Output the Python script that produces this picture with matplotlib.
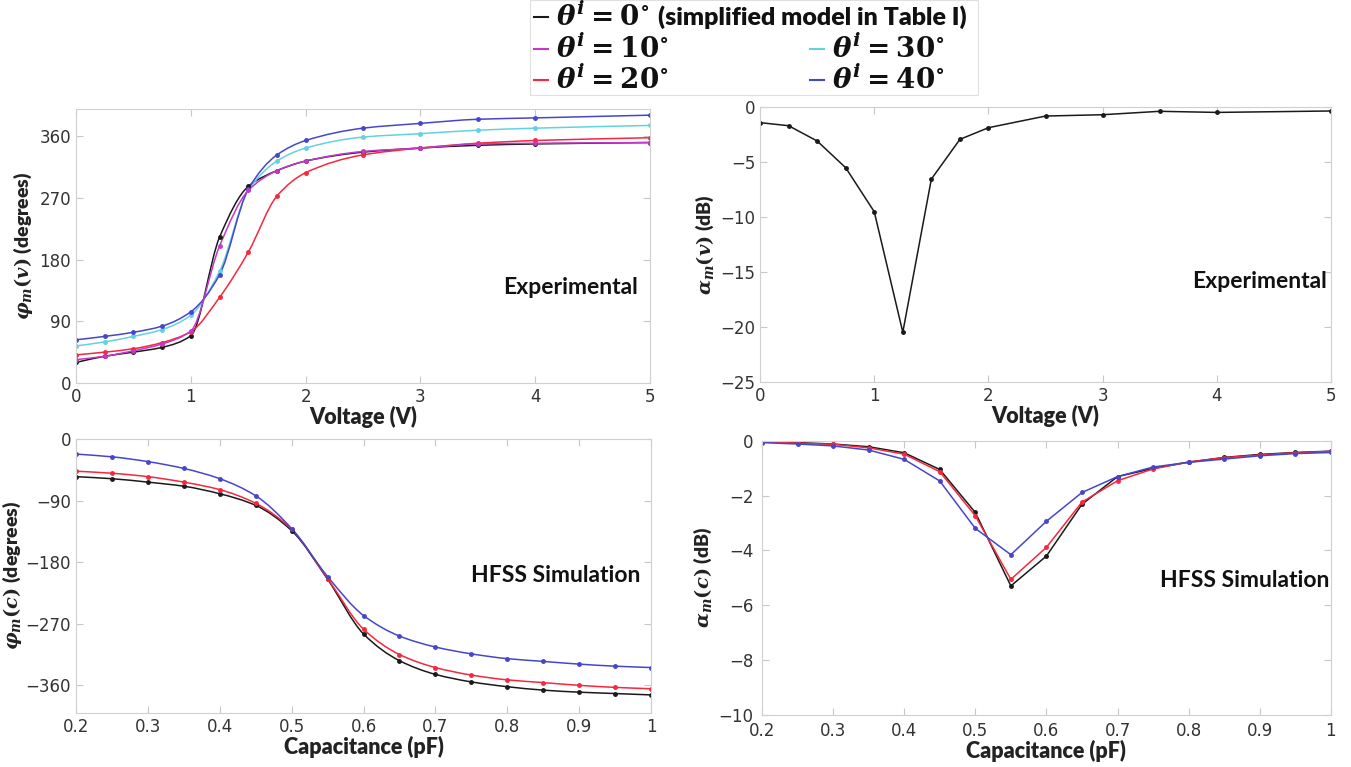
import numpy as np
import matplotlib
matplotlib.use('Agg')
import matplotlib.pyplot as plt
from matplotlib.path import Path
from matplotlib.patches import PathPatch
from matplotlib.lines import Line2D

plt.rcParams['font.family'] = ['DejaVu Sans']
plt.rcParams['mathtext.fontset'] = 'custom'
plt.rcParams['mathtext.rm'] = 'DejaVu Serif:bold'
plt.rcParams['mathtext.it'] = 'DejaVu Serif:italic:bold'
plt.rcParams['mathtext.bf'] = 'DejaVu Serif:bold'

# ---- data ----
volt = [0, 0.25, 0.5, 0.75, 1, 1.25, 1.5, 1.75, 2, 2.5, 3, 3.5, 4, 5]
phi_v_0 = [30, 39, 45, 52, 69, 213, 287, 310, 324, 337, 343, 347, 349, 351]
phi_v_10 = [34, 39, 47, 57, 76, 200, 281, 310, 324, 338, 343, 349, 350, 351]
phi_v_20 = [41, 45, 50, 59, 75, 125, 191, 273, 307, 333, 343, 350, 354, 358]
phi_v_30 = [54, 60, 68, 78, 99, 163, 281, 324, 343, 359, 364, 369, 372, 376]
phi_v_40 = [63, 68, 74, 83, 104, 158, 283, 333, 354, 372, 379, 385, 387, 391]
alpha_v = [-1.45, -1.73, -3.12, -5.55, -9.55, -20.5, -6.58, -2.97, -1.91,
           -0.85, -0.73, -0.42, -0.52, -0.39]

cap = [0.2, 0.25, 0.3, 0.35, 0.4, 0.45, 0.5, 0.55, 0.6, 0.65, 0.7, 0.75,
       0.8, 0.85, 0.9, 0.95, 1.0]
phi_c_0 = [-55, -58, -63, -69, -80, -97, -134, -205, -285, -324, -344, -355,
           -362, -367, -370, -372, -374]
phi_c_20 = [-47, -50, -55, -63, -74, -94, -132, -204, -278, -315, -334, -345,
            -352, -356, -360, -363, -365]
phi_c_40 = [-22, -26, -33, -43, -58, -83, -131, -201, -258, -288, -304, -314,
            -321, -325, -329, -332, -334]
alpha_c_0 = [-0.05, -0.07, -0.12, -0.22, -0.44, -1.05, -2.62, -5.3, -4.21,
             -2.32, -1.31, -1.01, -0.78, -0.61, -0.5, -0.43, -0.38]
alpha_c_20 = [-0.04, -0.09, -0.13, -0.26, -0.49, -1.13, -2.74, -5.06, -3.89,
              -2.24, -1.46, -1.03, -0.78, -0.62, -0.52, -0.44, -0.39]
alpha_c_40 = [-0.07, -0.12, -0.19, -0.34, -0.68, -1.47, -3.2, -4.16, -2.94,
              -1.89, -1.31, -0.96, -0.79, -0.67, -0.55, -0.47, -0.43]

c0 = '#1a1a1a'
c10 = '#c238c8'
c20 = '#f5283c'
c30 = '#62d2e2'
c40 = '#4646cc'


def smooth_line(ax, x, y, color, lw=1.1):
    # pchip-like tangents, drawn as cubic bezier segments
    x = np.asarray(x, float)
    y = np.asarray(y, float)
    h = np.diff(x)
    d = np.diff(y) / h
    m = np.zeros_like(y)
    m[0], m[-1] = d[0], d[-1]
    for k in range(1, len(x) - 1):
        if d[k - 1] * d[k] <= 0:
            m[k] = 0
        else:
            w1 = 2 * h[k] + h[k - 1]
            w2 = h[k] + 2 * h[k - 1]
            m[k] = (w1 + w2) / (w1 / d[k - 1] + w2 / d[k])
    verts = [(x[0], y[0])]
    codes = [Path.MOVETO]
    for k in range(len(x) - 1):
        verts += [(x[k] + h[k] / 3, y[k] + m[k] * h[k] / 3),
                  (x[k + 1] - h[k] / 3, y[k + 1] - m[k + 1] * h[k] / 3),
                  (x[k + 1], y[k + 1])]
        codes += [Path.CURVE4] * 3
    ax.add_patch(PathPatch(Path(verts, codes), facecolor='none',
                           edgecolor=color, lw=lw))
    ax.plot(x, y, '.', color=color, ms=5)


def style(ax):
    ax.tick_params(direction='in', top=True, right=True, labelsize=12,
                   labelcolor='#333333', color='#c8c8c8', length=5)
    for s in ax.spines.values():
        s.set_color('#d0d0d0')


fig = plt.figure(figsize=(13.51, 7.67), dpi=100)
ax1 = fig.add_axes([0.0563, 0.5007, 0.4249, 0.3572])
ax2 = fig.add_axes([0.5626, 0.5023, 0.4226, 0.3586])
ax3 = fig.add_axes([0.0563, 0.0708, 0.4256, 0.3568])
ax4 = fig.add_axes([0.5640, 0.0682, 0.4211, 0.3572])

xl_font = dict(fontsize=15.5, fontweight='heavy', color='#222222', family='Lato')
yl_font = dict(fontsize=14, fontweight='heavy', color='#222222', family='Lato')
note_font = dict(fontsize=16.5, fontweight='bold', family='Lato', color='#111111')

# top-left: experimental phase
for yy, c in [(phi_v_0, c0), (phi_v_30, c30), (phi_v_40, c40),
              (phi_v_20, c20), (phi_v_10, c10)]:
    smooth_line(ax1, volt, yy, c)
ax1.set_xlim(0, 5)
ax1.set_ylim(0, 400)
ax1.set_yticks([0, 90, 180, 270, 360])
ax1.set_xticks([0, 1, 2, 3, 4, 5])
ax1.set_xlabel('Voltage (V)', labelpad=0, **xl_font)
ax1.set_ylabel(r'$\varphi_m(v)$ (degrees)', labelpad=3, **yl_font)
ax1.text(0.979, 0.347, 'Experimental', transform=ax1.transAxes, ha='right',
         va='center', **note_font)
style(ax1)

# top-right: experimental attenuation
ax2.plot(volt, alpha_v, '-', color=c0, lw=1.1, marker='.', ms=5)
ax2.set_xlim(0, 5)
ax2.set_ylim(-25, 0)
ax2.set_yticks([-25, -20, -15, -10, -5, 0])
ax2.set_xticks([0, 1, 2, 3, 4, 5])
ax2.set_xlabel('Voltage (V)', labelpad=0, **xl_font)
ax2.set_ylabel(r'$\alpha_m(v)$ (dB)', labelpad=3, **yl_font)
ax2.text(0.993, 0.366, 'Experimental', transform=ax2.transAxes, ha='right',
         va='center', **note_font)
style(ax2)

cticks = [0.2, 0.3, 0.4, 0.5, 0.6, 0.7, 0.8, 0.9, 1.0]
clabels = ['0.2', '0.3', '0.4', '0.5', '0.6', '0.7', '0.8', '0.9', '1']

# bottom-left: simulated phase
for yy, c in [(phi_c_0, c0), (phi_c_20, c20), (phi_c_40, c40)]:
    smooth_line(ax3, cap, yy, c)
ax3.set_xlim(0.2, 1)
ax3.set_ylim(-400, 0)
ax3.set_yticks([-360, -270, -180, -90, 0])
ax3.set_xticks(cticks)
ax3.set_xticklabels(clabels)
ax3.set_xlabel('Capacitance (pF)', labelpad=0, **xl_font)
ax3.set_ylabel(r'$\varphi_m(c)$ (degrees)', labelpad=1, **yl_font)
ax3.text(0.982, 0.503, 'HFSS Simulation', transform=ax3.transAxes, ha='right',
         va='center', **note_font)
style(ax3)

# bottom-right: simulated attenuation
for yy, c in [(alpha_c_0, c0), (alpha_c_20, c20), (alpha_c_40, c40)]:
    ax4.plot(cap, yy, '-', color=c, lw=1.1, marker='.', ms=5)
ax4.set_xlim(0.2, 1)
ax4.set_ylim(-10, 0)
ax4.set_yticks([-10, -8, -6, -4, -2, 0])
ax4.set_xticks(cticks)
ax4.set_xticklabels(clabels)
ax4.set_xlabel('Capacitance (pF)', labelpad=0, **xl_font)
ax4.set_ylabel(r'$\alpha_m(c)$ (dB)', labelpad=3, **yl_font)
ax4.text(0.998, 0.488, 'HFSS Simulation', transform=ax4.transAxes, ha='right',
         va='center', **note_font)
style(ax4)
ax4.tick_params(axis='y', pad=6)
ax4.tick_params(axis='x', pad=5)

# legend box drawn by hand (mixed single / two-column layout)
W, H = 1351, 767
box = plt.Rectangle((530 / W, 1 - 95 / H), 448 / W, 95 / H,
                    transform=fig.transFigure, facecolor='white',
                    edgecolor='#e0e0e0', lw=0.8)
fig.patches.append(box)
entries = [
    (c0, r'$\theta^i = 0^{\circ}$', 534, 17),
    (c10, r'$\theta^i = 10^{\circ}$', 534, 49),
    (c20, r'$\theta^i = 20^{\circ}$', 534, 80),
    (c30, r'$\theta^i = 30^{\circ}$', 810, 49),
    (c40, r'$\theta^i = 40^{\circ}$', 810, 80),
]
for c, txt, px, py in entries:
    fig.add_artist(Line2D([px / W, (px + 14) / W], [1 - py / H, 1 - py / H],
                          transform=fig.transFigure, color=c, lw=1.5))
    fig.text((px + 22) / W, 1 - py / H, txt, ha='left', va='center',
             fontsize=20, color='#111111')
fig.text(658 / W, 1 - 17 / H, '(simplified model in Table I)', ha='left',
         va='center', fontsize=18, fontweight='heavy', family='Lato',
         color='#111111')

fig.savefig('out.png', dpi=100)
